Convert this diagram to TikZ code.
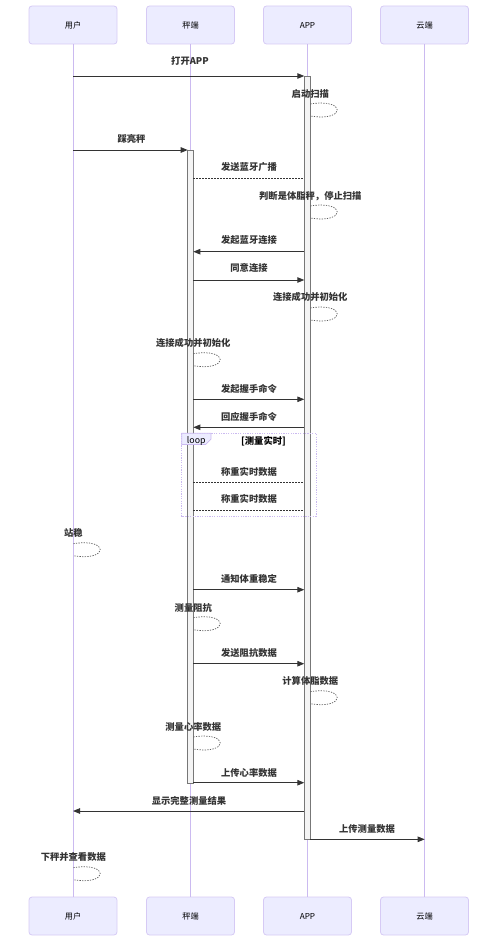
\documentclass[tikz,border=0pt]{standalone}
\usepackage{fontspec}
\setmainfont{Noto Sans CJK SC}
\usetikzlibrary{arrows.meta}
\definecolor{actfill}{HTML}{ECECFF}
\definecolor{actline}{HTML}{D6CAF5}
\definecolor{lifeclr}{HTML}{CBBAF0}
\definecolor{ink}{HTML}{333333}
\definecolor{barfill}{HTML}{F4F4F4}
\definecolor{barline}{HTML}{777777}
\tikzset{
  actor/.style={draw=actline, fill=actfill, rounded corners=3pt, line width=0.8pt,
    minimum width=88pt, minimum height=38pt, inner sep=0pt,
    font=\fontsize{8.2}{9}\selectfont, text=black},
  lifeline/.style={draw=lifeclr, line width=0.9pt},
  activ/.style={draw=barline, fill=barfill, line width=0.8pt},
  msgtxt/.style={font=\fontsize{9.3}{10}\selectfont\bfseries, text=ink, inner sep=0pt,
    text height=7.5pt, text depth=0.5pt},
  call/.style={draw=ink, line width=0.9pt, -{Triangle[length=7pt,width=5.5pt]}},
  dotcall/.style={draw=ink, line width=0.8pt, dash pattern=on 1.5pt off 1.5pt},
  selfloop/.style={draw=ink!80, line width=0.7pt, dash pattern=on 1.3pt off 1.3pt},
  loopframe/.style={draw=lifeclr, line width=0.7pt, dash pattern=on 1.2pt off 1.2pt},
  looptab/.style={draw=lifeclr, fill=actfill, line width=0.7pt},
}
\begin{document}
\begin{tikzpicture}[x=1pt,y=-1pt]
\useasboundingbox (0,0) rectangle (496,939);

% participants (top and bottom)
\node[actor] (uT) at (73,25) {用户};
\node[actor] (sT) at (190.5,25) {秤端};
\node[actor] (aT) at (307.5,25) {APP};
\node[actor] (cT) at (424.5,25) {云端};
\node[actor] (uB) at (73,916) {用户};
\node[actor] (sB) at (190.5,916) {秤端};
\node[actor] (aB) at (307.5,916) {APP};
\node[actor] (cB) at (424.5,916) {云端};

% lifelines
\draw[lifeline] (uT.south) -- (uB.north);
\draw[lifeline] (sT.south) -- (sB.north);
\draw[lifeline] (aT.south) -- (aB.north);
\draw[lifeline] (cT.south) -- (cB.north);

% activation bars
\draw[activ] (187.7,150) rectangle (193.3,783);
\draw[activ] (304.3,76) rectangle (310.3,839.3);

% loop frame
\draw[loopframe] (181.7,433.3) rectangle (316,516);
\draw[looptab] (181.7,433.3) -- (211,433.3) -- (211,439) -- (205.5,444.5) -- (181.7,444.5) -- cycle;
\node[font=\fontsize{8.8}{10}\selectfont, text=black, inner sep=0pt, text height=7.5pt, text depth=0.5pt] (looplbl) at (196.3,440) {loop};
\node[msgtxt, text=black] (loopcond) at (263.5,440.7) {[测量实时]};

% endpoints of messages
\coordinate (u1) at (73,76);      \coordinate (a1) at (304.3,76);
\coordinate (u3) at (73,150);     \coordinate (s3) at (187.7,150);
\coordinate (s4) at (193.3,178);  \coordinate (a4) at (304.3,178);
\coordinate (a6) at (304.3,251.7);\coordinate (s6) at (193.3,251.7);
\coordinate (s7) at (193.3,280);  \coordinate (a7) at (304.3,280);
\coordinate (s10) at (193.3,399.3);\coordinate (a10) at (304.3,399.3);
\coordinate (a11) at (304.3,427.3);\coordinate (s11) at (193.3,427.3);
\coordinate (s12) at (193.3,482); \coordinate (a12) at (304.3,482);
\coordinate (s13) at (193.3,510); \coordinate (a13) at (304.3,510);
\coordinate (s15) at (193.3,589.7);\coordinate (a15) at (304.3,589.7);
\coordinate (s17) at (193.3,663.7);\coordinate (a17) at (304.3,663.7);
\coordinate (s20) at (193.3,782.7);\coordinate (a20) at (304.3,782.7);
\coordinate (a21) at (304.3,811); \coordinate (u21) at (73,811);
\coordinate (a22) at (310.3,839.3);\coordinate (c22) at (424.7,839.3);

% self-message starts
\coordinate (l2) at (310.3,104);
\coordinate (l5) at (310.3,206);
\coordinate (l8) at (310.3,308);
\coordinate (l9) at (193.3,353.7);
\coordinate (l14) at (73.3,543.7);
\coordinate (l16) at (193.3,617.7);
\coordinate (l18) at (310.3,691.7);
\coordinate (l19) at (193.3,737);
\coordinate (l23) at (73.3,867.7);

% messages
\draw[call] (u1) -- (a1);
\node[msgtxt] (t1) at (190,61) {打开APP};

\draw[selfloop] (l2) .. controls +(36,-6) and +(36,6) .. +(0,12);
\node[msgtxt] (t2) at (310.3,94) {启动扫描};

\draw[call] (u3) -- (s3);
\node[msgtxt] (t3) at (131.5,139) {踩亮秤};

\draw[dotcall] (s4) -- (a4);
\node[msgtxt] (t4) at (249,167) {发送蓝牙广播};

\draw[selfloop] (l5) .. controls +(36,-6) and +(36,6) .. +(0,12);
\node[msgtxt] (t5) at (310.3,195.7) {判断是体脂秤，停止扫描};

\draw[call] (a6) -- (s6);
\node[msgtxt] (t6) at (249,240) {发起蓝牙连接};

\draw[call] (s7) -- (a7);
\node[msgtxt] (t7) at (249,268) {同意连接};

\draw[selfloop] (l8) .. controls +(36,-6) and +(36,6) .. +(0,12);
\node[msgtxt] (t8) at (310.3,297) {连接成功并初始化};

\draw[selfloop] (l9) .. controls +(36,-6) and +(36,6) .. +(0,12);
\node[msgtxt] (t9) at (193.3,342.7) {连接成功并初始化};

\draw[call] (s10) -- (a10);
\node[msgtxt] (t10) at (249,388.7) {发起握手命令};

\draw[call] (a11) -- (s11);
\node[msgtxt] (t11) at (249,416.7) {回应握手命令};

\draw[dotcall] (s12) -- (a12);
\node[msgtxt] (t12) at (249,471.7) {称重实时数据};

\draw[dotcall] (s13) -- (a13);
\node[msgtxt] (t13) at (249,499.3) {称重实时数据};

\draw[selfloop] (l14) .. controls +(36,-6) and +(36,6) .. +(0,12);
\node[msgtxt] (t14) at (73.3,533.3) {站稳};

\draw[call] (s15) -- (a15);
\node[msgtxt] (t15) at (249,578.7) {通知体重稳定};

\draw[selfloop] (l16) .. controls +(36,-6) and +(36,6) .. +(0,12);
\node[msgtxt] (t16) at (193.3,607.7) {测量阻抗};

\draw[call] (s17) -- (a17);
\node[msgtxt] (t17) at (249,652.7) {发送阻抗数据};

\draw[selfloop] (l18) .. controls +(36,-6) and +(36,6) .. +(0,12);
\node[msgtxt] (t18) at (310.3,681) {计算体脂数据};

\draw[selfloop] (l19) .. controls +(36,-6) and +(36,6) .. +(0,12);
\node[msgtxt] (t19) at (193.3,726.7) {测量心率数据};

\draw[call] (s20) -- (a20);
\node[msgtxt] (t20) at (249,772.7) {上传心率数据};

\draw[call] (a21) -- (u21);
\node[msgtxt] (t21) at (189,800.7) {显示完整测量结果};

\draw[call] (a22) -- (c22);
\node[msgtxt] (t22) at (367,828.7) {上传测量数据};

\draw[selfloop] (l23) .. controls +(36,-6) and +(36,6) .. +(0,12);
\node[msgtxt] (t23) at (73.3,856.7) {下秤并查看数据};
\end{tikzpicture}
\end{document}
